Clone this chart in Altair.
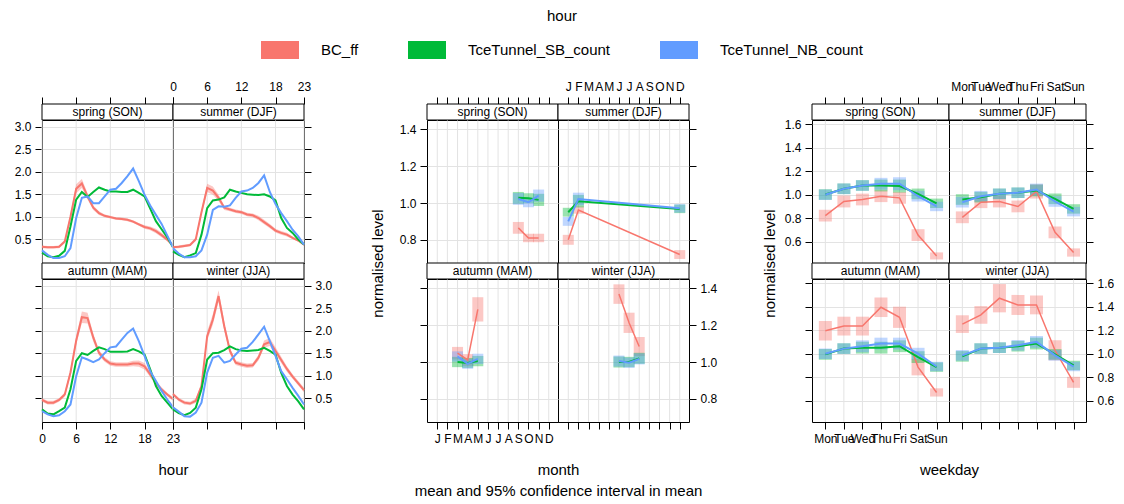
import altair as alt
import pandas as pd

FONT = "Liberation Sans"
GRID = "#e3e3e3"
H = 143
STRIP = 16
GAP = 123

SEASONS = ["spring (SON)", "summer (DJF)", "autumn (MAM)", "winter (JJA)"]
SERIES = ["BC_ff", "TceTunnel_SB_count", "TceTunnel_NB_count"]
COLORS = ["#F8766D", "#00BA38", "#619CFF"]
HOURS = list(range(24))
MONTH_LABELS = ["J", "F", "M", "A", "M", "J", "J", "A", "S", "O", "N", "D"]
WEEKDAY_LABELS = ["Mon", "Tue", "Wed", "Thu", "Fri", "Sat", "Sun"]

# ---- hour panel (means) ----
H_BC_SPRING = [0.33, 0.32, 0.32, 0.33, 0.45, 1.0, 1.62, 1.74, 1.45, 1.2, 1.08, 1.02, 0.99, 0.96, 0.95, 0.93, 0.89, 0.83, 0.77, 0.74, 0.68, 0.59, 0.49, 0.36]
H_SB_SPRING = [0.2, 0.12, 0.1, 0.13, 0.24, 0.78, 1.38, 1.55, 1.44, 1.55, 1.65, 1.6, 1.56, 1.56, 1.55, 1.55, 1.6, 1.53, 1.45, 1.18, 0.9, 0.72, 0.54, 0.32]
H_NB_SPRING = [0.25, 0.15, 0.08, 0.08, 0.12, 0.3, 0.97, 1.42, 1.45, 1.3, 1.3, 1.45, 1.6, 1.62, 1.75, 1.9, 2.07, 1.79, 1.49, 1.25, 1.04, 0.84, 0.58, 0.32]
H_BC_SUMMER = [0.32, 0.33, 0.35, 0.37, 0.5, 1.1, 1.64, 1.58, 1.42, 1.2, 1.16, 1.12, 1.1, 1.05, 1.03, 0.97, 0.88, 0.79, 0.69, 0.64, 0.6, 0.53, 0.47, 0.38]
H_SB_SUMMER = [0.23, 0.15, 0.1, 0.14, 0.19, 0.6, 1.19, 1.36, 1.38, 1.43, 1.6, 1.56, 1.53, 1.5, 1.49, 1.48, 1.5, 1.45, 1.36, 0.97, 0.75, 0.64, 0.49, 0.38]
H_NB_SUMMER = [0.3, 0.18, 0.1, 0.1, 0.12, 0.25, 0.6, 1.15, 1.23, 1.22, 1.25, 1.42, 1.56, 1.58, 1.64, 1.75, 1.92, 1.55, 1.28, 1.08, 0.9, 0.71, 0.56, 0.38]
H_BC_AUTUMN = [0.46, 0.4, 0.4, 0.46, 0.58, 1.07, 1.78, 2.3, 2.28, 1.85, 1.51, 1.36, 1.27, 1.25, 1.25, 1.25, 1.27, 1.27, 1.21, 1.03, 0.84, 0.69, 0.58, 0.48]
H_SB_AUTUMN = [0.25, 0.16, 0.14, 0.21, 0.29, 0.7, 1.33, 1.5, 1.46, 1.55, 1.63, 1.59, 1.53, 1.53, 1.53, 1.54, 1.59, 1.54, 1.47, 1.14, 0.77, 0.55, 0.4, 0.25]
H_NB_AUTUMN = [0.21, 0.14, 0.1, 0.12, 0.21, 0.36, 0.99, 1.41, 1.36, 1.3, 1.36, 1.5, 1.63, 1.65, 1.8, 1.95, 2.05, 1.77, 1.44, 1.1, 0.88, 0.66, 0.47, 0.3]
H_BC_WINTER = [0.59, 0.47, 0.4, 0.38, 0.44, 0.77, 1.88, 2.25, 2.77, 2.1, 1.55, 1.29, 1.25, 1.22, 1.23, 1.4, 1.7, 1.75, 1.55, 1.35, 1.15, 0.98, 0.83, 0.68]
H_SB_WINTER = [0.25, 0.17, 0.12, 0.17, 0.29, 0.7, 1.36, 1.5, 1.51, 1.57, 1.65, 1.59, 1.56, 1.55, 1.56, 1.57, 1.62, 1.55, 1.47, 1.06, 0.77, 0.58, 0.43, 0.25]
H_NB_WINTER = [0.3, 0.2, 0.1, 0.09, 0.18, 0.4, 1.07, 1.4, 1.44, 1.29, 1.33, 1.47, 1.6, 1.62, 1.75, 1.92, 2.09, 1.77, 1.44, 1.1, 0.92, 0.73, 0.55, 0.36]
# half-width of the 95% CI of BC_ff by hour
H_CI_SPRING = [0.03, 0.03, 0.03, 0.03, 0.04, 0.06, 0.1, 0.1, 0.07, 0.05, 0.04, 0.03, 0.03, 0.03, 0.03, 0.03, 0.03, 0.03, 0.04, 0.04, 0.05, 0.05, 0.04, 0.03]
H_CI_SUMMER = [0.03, 0.03, 0.03, 0.03, 0.04, 0.06, 0.09, 0.09, 0.07, 0.05, 0.04, 0.04, 0.04, 0.04, 0.04, 0.05, 0.05, 0.05, 0.04, 0.04, 0.04, 0.03, 0.03, 0.03]
H_CI_AUTUMN = [0.04, 0.04, 0.04, 0.04, 0.05, 0.07, 0.1, 0.13, 0.12, 0.09, 0.06, 0.05, 0.05, 0.05, 0.05, 0.05, 0.06, 0.07, 0.07, 0.06, 0.05, 0.05, 0.04, 0.04]
H_CI_WINTER = [0.04, 0.04, 0.04, 0.04, 0.05, 0.07, 0.1, 0.12, 0.13, 0.1, 0.07, 0.05, 0.05, 0.05, 0.05, 0.06, 0.08, 0.09, 0.08, 0.07, 0.06, 0.05, 0.05, 0.05]

# ---- month panel ----
M_MONTHS_SPRING = [9, 10, 11]
M_MONTHS_SUMMER = [1, 2, 12]
M_MONTHS_AUTUMN = [3, 4, 5]
M_MONTHS_WINTER = [6, 7, 8]
M_BC_SPRING = [0.865, 0.81, 0.81]
M_SB_SPRING = [1.028, 1.026, 1.017]
M_NB_SPRING = [1.022, 1.004, 1.04]
M_BC_SUMMER = [0.80, 0.962, 0.72]
M_SB_SUMMER = [0.95, 1.01, 0.968]
M_NB_SUMMER = [0.90, 1.022, 0.971]
M_BC_AUTUMN = [1.048, 1.011, 1.286]
M_SB_AUTUMN = [1.0, 0.995, 1.005]
M_NB_AUTUMN = [1.03, 0.99, 1.017]
M_BC_WINTER = [1.369, 1.213, 1.084]
M_SB_WINTER = [1.0, 1.0, 1.02]
M_NB_WINTER = [1.005, 0.996, 1.017]
M_CI_BC_SPRING = [0.032, 0.023, 0.023]
M_CI_CNT_SPRING = [0.032, 0.027, 0.033]
M_CI_BC_SUMMER = [0.027, 0.02, 0.024]
M_CI_CNT_SUMMER = [0.024, 0.034, 0.023]
M_CI_BC_AUTUMN = [0.034, 0.032, 0.066]
M_CI_CNT_AUTUMN = [0.028, 0.027, 0.028]
M_CI_BC_WINTER = [0.053, 0.055, 0.052]
M_CI_CNT_WINTER = [0.03, 0.028, 0.03]

# ---- weekday panel ----
W_BC_SPRING = [0.822, 0.942, 0.959, 0.987, 0.973, 0.657, 0.48]
W_SB_SPRING = [1.002, 1.05, 1.078, 1.078, 1.073, 1.007, 0.927]
W_NB_SPRING = [1.0, 1.05, 1.078, 1.093, 1.093, 0.987, 0.90]
W_BC_SUMMER = [0.808, 0.936, 0.942, 0.90, 1.027, 0.68, 0.509]
W_SB_SUMMER = [0.959, 0.979, 1.007, 1.016, 1.036, 0.965, 0.879]
W_NB_SUMMER = [0.936, 0.987, 1.007, 1.016, 1.044, 0.942, 0.856]
W_BC_AUTUMN = [1.194, 1.234, 1.234, 1.394, 1.309, 0.886, 0.671]
W_SB_AUTUMN = [0.994, 1.043, 1.051, 1.051, 1.063, 0.971, 0.886]
W_NB_AUTUMN = [1.0, 1.043, 1.063, 1.086, 1.086, 1.0, 0.891]
W_BC_WINTER = [1.251, 1.329, 1.471, 1.414, 1.414, 1.029, 0.757]
W_SB_WINTER = [0.977, 1.043, 1.051, 1.063, 1.086, 0.994, 0.9]
W_NB_WINTER = [0.986, 1.043, 1.051, 1.071, 1.1, 0.986, 0.891]
W_CI_BC_SPRING = [0.05, 0.05, 0.05, 0.05, 0.05, 0.05, 0.03]
W_CI_CNT_SPRING = [0.045, 0.045, 0.045, 0.05, 0.055, 0.045, 0.04]
W_CI_BC_SUMMER = [0.05, 0.05, 0.05, 0.05, 0.06, 0.05, 0.035]
W_CI_CNT_SUMMER = [0.045, 0.045, 0.045, 0.045, 0.05, 0.045, 0.04]
W_CI_BC_AUTUMN = [0.083, 0.08, 0.08, 0.083, 0.09, 0.07, 0.035]
W_CI_CNT_AUTUMN = [0.045, 0.045, 0.05, 0.05, 0.05, 0.05, 0.04]
W_CI_BC_WINTER = [0.075, 0.075, 0.12, 0.085, 0.08, 0.085, 0.047]
W_CI_CNT_WINTER = [0.045, 0.045, 0.045, 0.045, 0.05, 0.045, 0.04]

HOUR_DATA = {
    SEASONS[0]: ([H_BC_SPRING, H_SB_SPRING, H_NB_SPRING], H_CI_SPRING),
    SEASONS[1]: ([H_BC_SUMMER, H_SB_SUMMER, H_NB_SUMMER], H_CI_SUMMER),
    SEASONS[2]: ([H_BC_AUTUMN, H_SB_AUTUMN, H_NB_AUTUMN], H_CI_AUTUMN),
    SEASONS[3]: ([H_BC_WINTER, H_SB_WINTER, H_NB_WINTER], H_CI_WINTER),
}
MONTH_DATA = {
    SEASONS[0]: (M_MONTHS_SPRING, [M_BC_SPRING, M_SB_SPRING, M_NB_SPRING], [M_CI_BC_SPRING, M_CI_CNT_SPRING, M_CI_CNT_SPRING]),
    SEASONS[1]: (M_MONTHS_SUMMER, [M_BC_SUMMER, M_SB_SUMMER, M_NB_SUMMER], [M_CI_BC_SUMMER, M_CI_CNT_SUMMER, M_CI_CNT_SUMMER]),
    SEASONS[2]: (M_MONTHS_AUTUMN, [M_BC_AUTUMN, M_SB_AUTUMN, M_NB_AUTUMN], [M_CI_BC_AUTUMN, M_CI_CNT_AUTUMN, M_CI_CNT_AUTUMN]),
    SEASONS[3]: (M_MONTHS_WINTER, [M_BC_WINTER, M_SB_WINTER, M_NB_WINTER], [M_CI_BC_WINTER, M_CI_CNT_WINTER, M_CI_CNT_WINTER]),
}
DAYS = list(range(1, 8))
WEEK_DATA = {
    SEASONS[0]: (DAYS, [W_BC_SPRING, W_SB_SPRING, W_NB_SPRING], [W_CI_BC_SPRING, W_CI_CNT_SPRING, W_CI_CNT_SPRING]),
    SEASONS[1]: (DAYS, [W_BC_SUMMER, W_SB_SUMMER, W_NB_SUMMER], [W_CI_BC_SUMMER, W_CI_CNT_SUMMER, W_CI_CNT_SUMMER]),
    SEASONS[2]: (DAYS, [W_BC_AUTUMN, W_SB_AUTUMN, W_NB_AUTUMN], [W_CI_BC_AUTUMN, W_CI_CNT_AUTUMN, W_CI_CNT_AUTUMN]),
    SEASONS[3]: (DAYS, [W_BC_WINTER, W_SB_WINTER, W_NB_WINTER], [W_CI_BC_WINTER, W_CI_CNT_WINTER, W_CI_CNT_WINTER]),
}


def frame(xs, vals_list, ci_list, series):
    rows = []
    for s, vals, cis in zip(series, vals_list, ci_list):
        for x, v, e in zip(xs, vals, cis):
            rows.append({"x": x, "y": v, "lo": v - e, "hi": v + e, "series": s})
    return pd.DataFrame(rows)


def hour_data(season):
    vals, ci = HOUR_DATA[season]
    lines = frame(HOURS, vals, [[0] * 24] * 3, SERIES)
    bands = frame(HOURS, vals[:1], [ci], SERIES[:1])
    return lines, bands


def month_data(season):
    xs, vals, cis = MONTH_DATA[season]
    df = frame(xs, vals, cis, SERIES)
    return df, df


def week_data(season):
    xs, vals, cis = WEEK_DATA[season]
    df = frame(xs, vals, cis, SERIES)
    return df, df


def label_expr(labels):
    return "[" + ",".join("'%s'" % s for s in labels) + "][datum.value - 1]"


LEGEND = alt.Legend(
    title="hour", orient="none", legendX=219, legendY=-111, direction="horizontal",
    symbolType="M-1,-0.47L1,-0.47L1,0.47L-1,0.47Z", symbolSize=1444,
    symbolStrokeWidth=0, symbolOpacity=1,
    labelFont=FONT, labelFontSize=15, labelColor="black", labelOffset=22, labelLimit=400,
    columnPadding=49, titleFont=FONT, titleFontSize=15, titleFontWeight="normal",
    titleColor="black", titleAnchor="middle", titleOrient="top", titlePadding=7,
)


def color_enc():
    return alt.Color("series:N", scale=alt.Scale(domain=SERIES, range=COLORS), legend=LEGEND)


def make_cell(spec, r, c, season, lines, bands):
    W = spec["W"]
    top = r == 0
    xk = dict(orient="top" if top else "bottom", values=spec["xticks"],
              labels=(c == 1) if top else (c == 0), grid=False, title="")
    if top:
        xk["offset"] = STRIP
    if spec.get("xlabels"):
        xk["labelExpr"] = label_expr(spec["xlabels"])
    if (not top) and c == 0:
        xk.update(title=spec["xtitle"], titleX=W, titleY=40, titleAlign="center",
                  titleBaseline="top", titleLineHeight=21)
    yk = dict(orient="left" if c == 0 else "right", values=spec["yticks"], format=".1f",
              labels=(r == 0) if c == 0 else (r == 1), grid=True, title="")
    if c == 0 and r == 0 and spec.get("ytitle"):
        yk.update(title=spec["ytitle"], titleX=spec["ytitleX"], titleY=H, titleAngle=270,
                  titleAlign="center", titleBaseline="middle")
    X = alt.X("x:Q", scale=alt.Scale(domain=spec["xdom"], nice=False, zero=False), axis=alt.Axis(**xk))

    def Y(f):
        return alt.Y(f + ":Q", scale=alt.Scale(domain=spec["ydom"], nice=False, zero=False),
                     axis=alt.Axis(**yk))

    grid_df = pd.DataFrame({"x": spec["xticks"]})
    layers = [alt.Chart(grid_df).mark_rule(color=GRID, strokeWidth=1).encode(x=X)]
    if spec["kind"] == "hour":
        layers.append(alt.Chart(bands).mark_area(opacity=0.4).encode(
            x=X, y=Y("lo"), y2="hi:Q", color=color_enc()))
    else:
        layers.append(alt.Chart(bands).mark_bar(size=spec["box"], opacity=0.4).encode(
            x=X, y=Y("lo"), y2="hi:Q", color=color_enc()))
    bc = lines[lines.series == SERIES[0]]
    cnt = lines[lines.series != SERIES[0]]
    layers.append(alt.Chart(bc).mark_line(strokeWidth=spec["bcw"]).encode(
        x=X, y=Y("y"), color=color_enc()))
    layers.append(alt.Chart(cnt).mark_line(strokeWidth=2).encode(
        x=X, y=Y("y"), color=color_enc()))
    sdf = pd.DataFrame({"label": [season]})
    layers.append(alt.Chart(sdf).mark_rect(fill="white", stroke="black", strokeWidth=1).encode(
        x=alt.value(0), x2=alt.value(W), y=alt.value(-STRIP), y2=alt.value(0)))
    layers.append(alt.Chart(sdf).mark_text(font=FONT, fontSize=12, color="black").encode(
        x=alt.value(W / 2), y=alt.value(-STRIP / 2), text="label:N"))
    return alt.layer(*layers).properties(width=W, height=H)


def spacer():
    return alt.Chart(pd.DataFrame({"a": [0]})).mark_point(opacity=0).encode(
        x=alt.value(0), y=alt.value(0)
    ).properties(width=GAP, height=H, view=alt.ViewBackground(stroke="transparent"))


HOUR_SPEC = dict(kind="hour", W=131, xdom=[0, 23], xticks=[0, 6, 12, 18, 23],
                 ydom=[-0.03, 3.15], yticks=[0.5, 1.0, 1.5, 2.0, 2.5, 3.0],
                 xtitle="hour", bcw=2, data=hour_data)
MONTH_SPEC = dict(kind="month", W=131, xdom=[0.48, 12.42], xticks=list(range(1, 13)),
                  xlabels=MONTH_LABELS, ydom=[0.674, 1.451], yticks=[0.8, 1.0, 1.2, 1.4],
                  xtitle=["month", "mean and 95% confidence interval in mean"],
                  ytitle="normalised level", ytitleX=-50, box=11, bcw=1.5, data=month_data)
WEEK_SPEC = dict(kind="week", W=137, xdom=[0.55, 7.4], xticks=DAYS,
                 xlabels=WEEKDAY_LABELS, ydom=[0.42, 1.634],
                 yticks=[0.6, 0.8, 1.0, 1.2, 1.4, 1.6],
                 xtitle="weekday", ytitle="normalised level", ytitleX=-43, box=13, bcw=1.5,
                 data=week_data)

items = []
for r in range(2):
    for pi, spec in enumerate([HOUR_SPEC, MONTH_SPEC, WEEK_SPEC]):
        if pi > 0:
            items.append(spacer())
        for c in range(2):
            season = SEASONS[2 * r + c]
            lines, bands = spec["data"](season)
            items.append(make_cell(spec, r, c, season, lines, bands))

chart = alt.concat(
    *items, columns=8, spacing={"row": STRIP, "column": 0}, bounds="flush", align="each"
).properties(
    padding={"left": 13, "top": 9, "right": 5, "bottom": 2}
).configure(font=FONT).configure_view(
    stroke="black", strokeWidth=1
).configure_axis(
    labelFont=FONT, labelFontSize=12, labelColor="black", tickColor="black", tickSize=7,
    tickWidth=1, domain=False, gridColor=GRID, gridWidth=1, labelPadding=4,
    labelFlush=False, labelOverlap=False, labelBound=False,
    titleFont=FONT, titleFontSize=15, titleFontWeight="normal", titleColor="black",
)

chart.save("out.html", embed_options={"renderer": "svg", "actions": False})
